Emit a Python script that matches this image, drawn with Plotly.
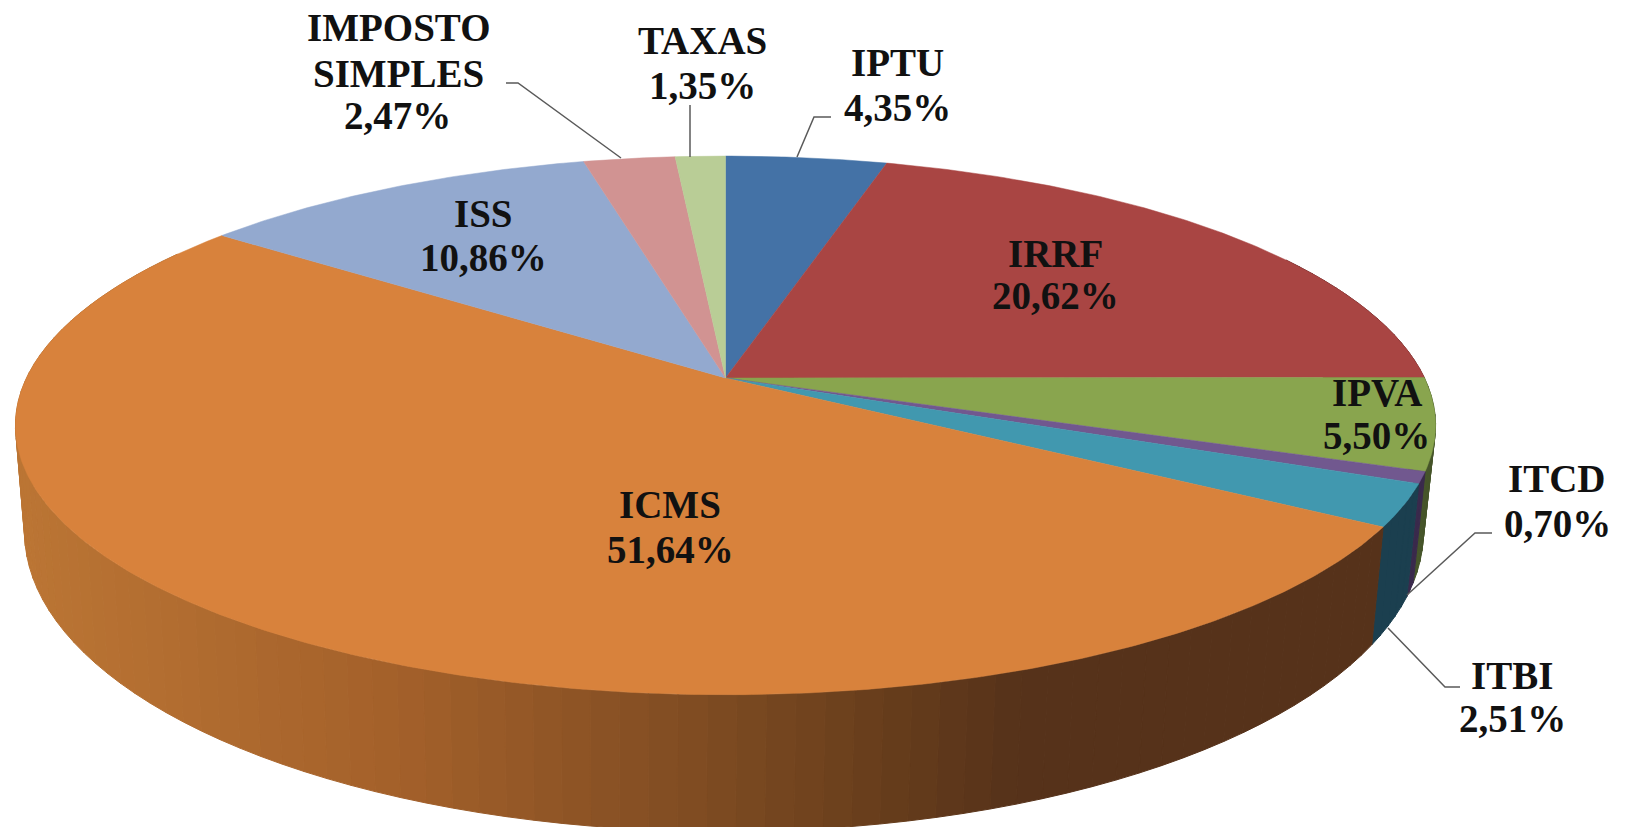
import math
import plotly.graph_objects as go

# ---------- data ----------
categories = ["IPTU", "IRRF", "IPVA", "ITCD", "ITBI", "ICMS", "ISS", "IMPOSTO SIMPLES", "TAXAS"]
shares = [4.35, 20.62, 5.50, 0.70, 2.51, 51.64, 10.86, 2.47, 1.35]

# ---------- styles ----------
top_colors = ["#4472a6", "#a94543", "#89a54e", "#71588f", "#4198af", "#d8823c", "#93a9cf", "#d19392", "#b9cd96"]
side_colors = ["#2a4668", "#6a2b2a", "#46552a", "#3a2a4c", "#1b3f4f", None, "#5c6a82", "#84605f", "#75825f"]
icms_side_stops = [(20, (187, 117, 52)), (400, (163, 96, 42)), (700, (127, 76, 34)),
                   (900, (101, 60, 27)), (1020, (86, 50, 26)), (1440, (86, 50, 26))]

# projection of the pie on the page
CX, CY = 725.5, 378.0
K = 0.176
RX, RY = 699.0, 261.0
BOT_CX, BOT_DY, BOT_SX, BOT_SY = 724.0, 101.0, 0.985, 1.113
STEP = 2.0


def top_pt(deg):
    a = math.radians(deg)
    u, v = math.sin(a), -math.cos(a)
    d = 1 - K * v
    return CX + RX * u / d, CY + RY * v / d


def bot_pt(deg):
    a = math.radians(deg)
    u, v = math.sin(a), -math.cos(a)
    d = 1 - K * v
    return BOT_CX + BOT_SX * RX * u / d, CY + BOT_DY + BOT_SY * RY * v / d


def arc_angles(a0, a1, step=0.5):
    n = max(2, int(math.ceil((a1 - a0) / step)) + 1)
    return [a0 + (a1 - a0) * i / (n - 1) for i in range(n)]


def icms_side(x):
    st = icms_side_stops
    if x <= st[0][0]:
        c = st[0][1]
    else:
        c = st[-1][1]
        for (x0, c0), (x1, c1) in zip(st, st[1:]):
            if x0 <= x <= x1:
                t = (x - x0) / (x1 - x0)
                c = tuple(c0[i] + (c1[i] - c0[i]) * t for i in range(3))
                break
    return "rgb(%d,%d,%d)" % tuple(round(p) for p in c)


total = sum(shares)
bounds = [0.0]
for s in shares:
    bounds.append(bounds[-1] + s / total * 360.0)

fig = go.Figure()


def poly(xs, ys, color, width=0.0):
    fig.add_trace(go.Scatter(x=xs, y=ys, mode="lines", fill="toself", fillcolor=color,
                             line=dict(color=color, width=width), hoverinfo="skip", showlegend=False))


# side wall, drawn back-to-front from both ends towards the front
strips = []
for i, col in enumerate(side_colors):
    a0, a1 = bounds[i], bounds[i + 1]
    for a in arc_angles(a0, a1, STEP)[:-1]:
        b = min(a + STEP, a1)
        if 60 <= a <= 300:
            strips.append((a, b, i))
for a, b, i in strips:
    ang = arc_angles(a, b, 0.5)
    tp = [top_pt(x) for x in ang]
    bp = [bot_pt(x) for x in reversed(ang)]
    xs = [p[0] for p in tp + bp]
    ys = [p[1] for p in tp + bp]
    mid = sum(p[0] for p in tp) / len(tp)
    col = side_colors[i] or icms_side(mid)
    poly(xs + xs[:1], ys + ys[:1], col, 1.0)

# top face
for i, col in enumerate(top_colors):
    ang = arc_angles(bounds[i], bounds[i + 1])
    pts = [(CX, CY)] + [top_pt(x) for x in ang] + [(CX, CY)]
    poly([p[0] for p in pts], [p[1] for p in pts], col, 0.5)

# leader lines
leaders = {
    "ITCD": [(1492, 533), (1475, 533), (1407, 595)],
    "ITBI": [(1460, 687), (1445, 687), (1388, 628)],
    "IMPOSTO SIMPLES": [(506, 83), (518, 83), (621, 158)],
    "TAXAS": [(690, 105), (690, 157)],
    "IPTU": [(831, 117), (814, 117), (797, 157)],
}
for name, pts in leaders.items():
    fig.add_trace(go.Scatter(x=[p[0] for p in pts], y=[p[1] for p in pts], mode="lines",
                             line=dict(color="#5a5a5a", width=1.5), hoverinfo="skip", showlegend=False))

# labels
label_lines = {
    "IPTU": [(897, 62), (897, 107)],
    "IRRF": [(1055, 253), (1055, 295)],
    "IPVA": [(1377, 392), (1376, 435)],
    "ITCD": [(1557, 478), (1557, 523)],
    "ITBI": [(1512, 675), (1512, 718)],
    "ICMS": [(670, 504), (670, 549)],
    "ISS": [(483, 213), (483, 257)],
    "IMPOSTO SIMPLES": [(398, 27), (398, 73), (397, 115)],
    "TAXAS": [(702, 40), (702, 85)],
}
annotations = []
for name, val in zip(categories, shares):
    words = name.split(" ")
    texts = words + [f"{val:.2f}".replace(".", ",") + "%"]
    for t, (x, y) in zip(texts, label_lines[name]):
        annotations.append(dict(x=x, y=y, text=f"<b>{t}</b>", showarrow=False,
                                xanchor="center", yanchor="middle",
                                font=dict(family="Liberation Serif", size=39, color="#111111")))

fig.update_layout(
    width=1630, height=827, margin=dict(l=0, r=0, t=0, b=0),
    paper_bgcolor="white", plot_bgcolor="white", showlegend=False,
    xaxis=dict(range=[0, 1630], visible=False, fixedrange=True),
    yaxis=dict(range=[827, 0], visible=False, fixedrange=True),
    annotations=annotations,
)
fig.write_html("out.html", config={"displayModeBar": False},
               post_script="document.body.style.margin='0';document.body.style.overflow='hidden';")
